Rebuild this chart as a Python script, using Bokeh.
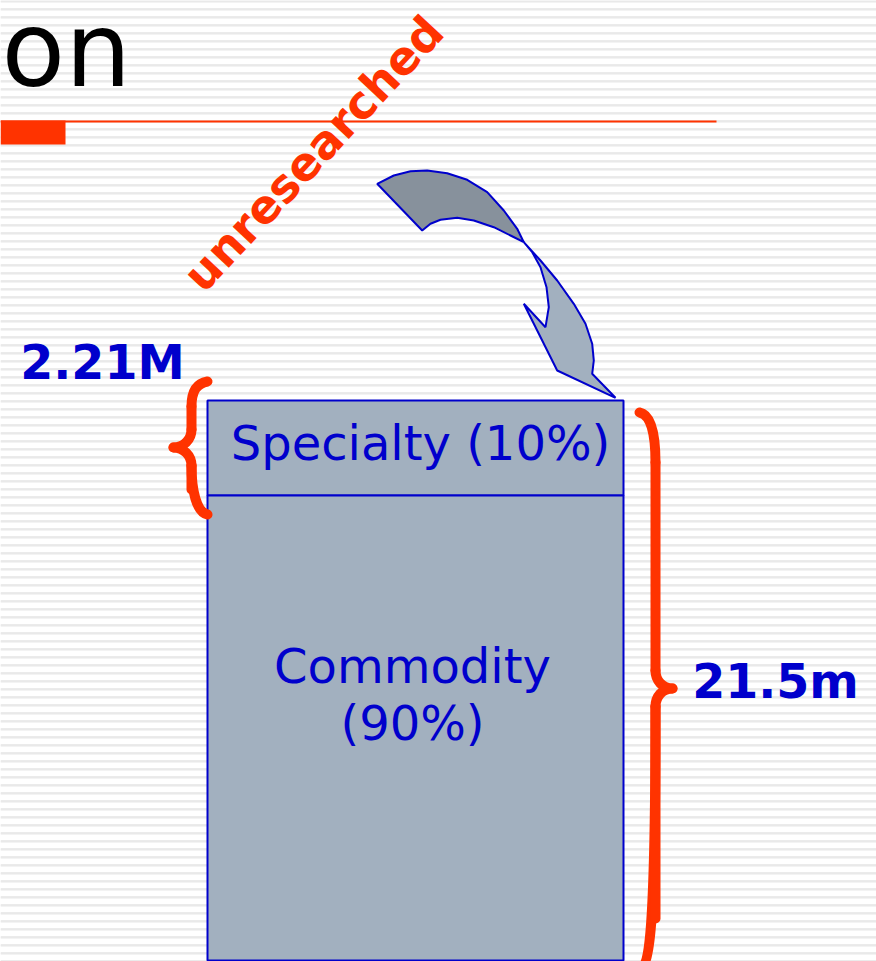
import numpy as np
from bokeh.plotting import figure
from bokeh.models import Range1d
from bokeh.core.properties import value
from bokeh.embed import file_html
from bokeh.resources import INLINE

# ---- data ----
segment_names = ["Specialty", "Commodity"]
segment_share = [10, 90]
segment_labels = [["Specialty (10%)"], ["Commodity", "(90%)"]]
segment_top = [400, 495]
segment_bottom = [495, 960]
box_left = [207]
box_right = [623]
size_specialty = "2.21M"
size_total = "21.5m"
title_text = "on"
callout_text = "unresearched"

# arrow outline (two faces of the twisted ribbon arrow)
arrow_back_x = [376.7, 393.3, 410.0, 426.7, 446.7, 466.7, 486.7, 503.3, 516.7, 523.3,
                510.0, 493.3, 473.3, 456.7, 440.0, 430.0, 421.7]
arrow_back_y = [183.3, 175.0, 170.7, 170.0, 172.7, 179.3, 191.7, 210.0, 228.3, 241.7,
                235.0, 226.7, 220.0, 217.3, 219.3, 223.3, 230.0]
arrow_front_x = [523.3, 540.0, 556.7, 573.3, 585.0, 591.7, 593.3, 591.7, 615.0, 556.7,
                 523.3, 545.0, 548.3, 546.0, 540.0, 531.7]
arrow_front_y = [241.7, 260.0, 280.0, 303.3, 323.3, 343.3, 360.0, 373.3, 397.3, 370.0,
                 303.3, 326.7, 306.7, 286.7, 266.7, 251.7]

BLUE = "#0000cc"
RED = "#ff3300"
FILL = "#a2b0bf"
DARK = "#87919c"

W, H = 876, 961
p = figure(width=W, height=H, output_backend="svg", toolbar_location=None,
           x_range=Range1d(0, W), y_range=Range1d(H, 0),
           min_border=0, background_fill_color="white", border_fill_color="white")
p.axis.visible = False
p.grid.visible = False
p.outline_line_color = None

# striped background
sy = np.arange(0, 970, 8)
p.quad(left=0, right=W, top=sy, bottom=sy + 1, fill_color="#d8d8d8", line_color=None)
p.quad(left=0, right=W, top=sy + 1, bottom=sy + 2, fill_color="#e8e8e8", line_color=None)

# title fragment and rule
p.text(x=[1], y=[49], text=[title_text], text_font=value("DejaVu Sans"),
       text_font_size="104px", text_color="black", text_baseline="middle", text_align="left")
p.quad(left=[0], right=[716], top=[120], bottom=[122], fill_color=RED, line_color=None)
p.quad(left=[0], right=[65], top=[120], bottom=[144], fill_color=RED, line_color=None)

# callout
p.text(x=[313], y=[153], text=[callout_text], angle=47, angle_units="deg",
       text_font=value("DejaVu Sans"), text_font_style="bold", text_font_size="46px",
       text_color=RED, text_align="center", text_baseline="middle")

# arrow
p.patch(arrow_back_x, arrow_back_y, fill_color=DARK, line_color=BLUE, line_width=2)
p.patch(arrow_front_x, arrow_front_y, fill_color=FILL, line_color=BLUE, line_width=2)

# stacked box
p.quad(left=box_left * 2, right=box_right * 2, top=segment_top, bottom=segment_bottom,
       fill_color=FILL, line_color=BLUE, line_width=2)

# segment labels
lx, ly, lt = [], [], []
line_gap = 57
for i, lines in enumerate(segment_labels):
    n = len(lines)
    if i == 0:
        cy = (segment_top[i] + segment_bottom[i]) / 2 - 5
    else:
        cy = 694
    for j, t in enumerate(lines):
        lx.append((box_left[0] + box_right[0]) / 2 + (5 if i == 0 else -3))
        ly.append(cy + (j - (n - 1) / 2) * line_gap)
        lt.append(t)
p.text(x=lx, y=ly, text=lt, text_font=value("DejaVu Sans"), text_font_size="48px",
       text_color=BLUE, text_align="center", text_baseline="middle")

# size labels
p.text(x=[102, 775], y=[362, 681], text=[size_specialty, size_total],
       text_font=value("DejaVu Sans"), text_font_style="bold", text_font_size="47.5px",
       text_color=BLUE, text_align="center", text_baseline="middle")

# braces
def brace(xe, xv, xc, y0, y1, yc, r):
    d = 1 if xc > xv else -1
    bx0 = [xe, xv, xc, xv]
    by0 = [y0, yc - 18, yc, yc + 18]
    bx1 = [xv, xc, xv, xe]
    by1 = [y0 + r, yc, yc + 18, y1]
    cx0 = [xe + (xv - xe) * 0.7, xv, xc - d * 10, xv]
    cy0 = [y0 + 2, yc - 8, yc, y1 - r]
    cx1 = [xv, xc - d * 10, xv, xe + (xv - xe) * 0.7]
    cy1 = [y0 + r * 0.4, yc, yc + 8, y1 - 2]
    p.bezier(x0=bx0, y0=by0, x1=bx1, y1=by1, cx0=cx0, cy0=cy0, cx1=cx1, cy1=cy1,
             line_color=RED, line_width=10, line_cap="round")
    p.segment(x0=[xv, xv], y0=[y0 + r, yc + 18], x1=[xv, xv], y1=[yc - 18, y1 - r],
              line_color=RED, line_width=10, line_cap="round")

brace(207, 191, 173, 381, 514, 447, 25)
brace(639, 655, 672, 412, 968, 688, 50)

open("out.html", "w").write(file_html(p, INLINE))
